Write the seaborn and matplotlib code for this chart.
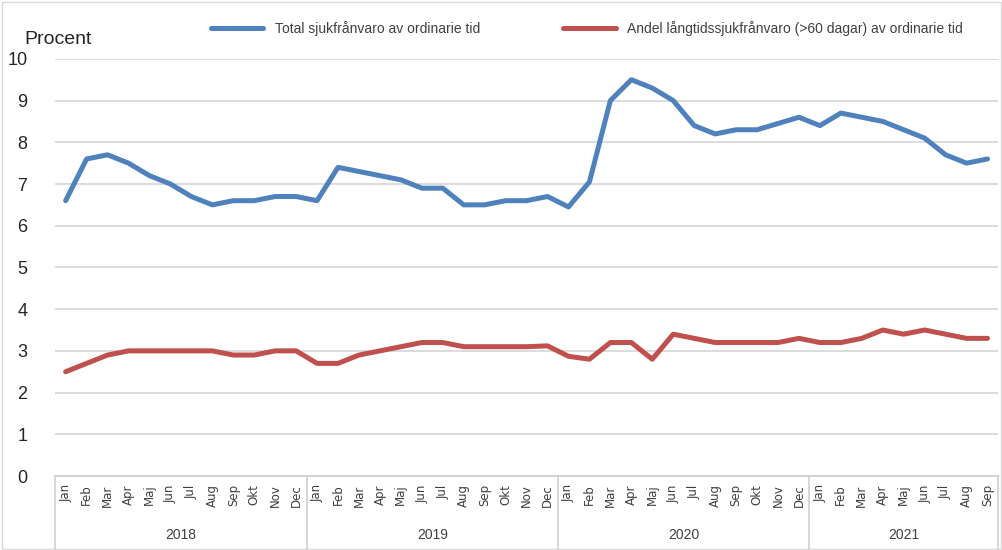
import numpy as np
import pandas as pd
import seaborn as sns
import matplotlib.pyplot as plt
import matplotlib.transforms as mtransforms
from matplotlib.lines import Line2D

#* data
manader = ["Jan", "Feb", "Mar", "Apr", "Maj", "Jun", "Jul", "Aug", "Sep", "Okt", "Nov", "Dec"]
ar = ["2018", "2019", "2020", "2021"]
antal_manader = [12, 12, 12, 9]

total = [6.6, 7.6, 7.7, 7.5, 7.2, 7.0, 6.7, 6.5, 6.6, 6.6, 6.7, 6.7,
         6.6, 7.4, 7.3, 7.2, 7.1, 6.9, 6.9, 6.5, 6.5, 6.6, 6.6, 6.7,
         6.45, 7.05, 9.0, 9.5, 9.3, 9.0, 8.4, 8.2, 8.3, 8.3, 8.45, 8.6,
         8.4, 8.7, 8.6, 8.5, 8.3, 8.1, 7.7, 7.5, 7.6]
langtid = [2.5, 2.7, 2.9, 3.0, 3.0, 3.0, 3.0, 3.0, 2.9, 2.9, 3.0, 3.0,
           2.7, 2.7, 2.9, 3.0, 3.1, 3.2, 3.2, 3.1, 3.1, 3.1, 3.1, 3.12,
           2.87, 2.8, 3.2, 3.2, 2.8, 3.4, 3.3, 3.2, 3.2, 3.2, 3.2, 3.3,
           3.2, 3.2, 3.3, 3.5, 3.4, 3.5, 3.4, 3.3, 3.3]

serie_total = "Total sjukfrånvaro av ordinarie tid"
serie_lang = "Andel långtidssjukfrånvaro (>60 dagar) av ordinarie tid"

month_labels = []
for n in antal_manader:
    month_labels += manader[:n]
x = np.arange(len(month_labels))

df = pd.concat([
    pd.DataFrame({"x": x, "Procent": total, "serie": serie_total}),
    pd.DataFrame({"x": x, "Procent": langtid, "serie": serie_lang}),
])

sns.set_style("white")
plt.rcParams["font.family"] = ["Liberation Sans Narrow", "Liberation Sans", "DejaVu Sans"]

fig = plt.figure(figsize=(10.03, 5.5), dpi=100)
ax = fig.add_axes([0.055, 0.1345, 0.94, 0.7585])

farger = {serie_total: "#4F81BD", serie_lang: "#C0504D"}
sns.lineplot(data=df, x="x", y="Procent", hue="serie", palette=farger,
             linewidth=3.6, ax=ax, legend=False)

ax.set_xlim(-0.5, len(x) - 0.5)
ax.set_ylim(0, 10)
ax.set_yticks(range(0, 11))
ax.set_yticklabels([str(v) for v in range(0, 11)], fontsize=13, color="#262626")
ax.tick_params(axis="y", length=0, pad=20)
ax.grid(axis="y", color="#D9D9D9", linewidth=1.3)
ax.set_axisbelow(True)
for s in ["top", "right", "left"]:
    ax.spines[s].set_visible(False)
ax.spines["bottom"].set_color("#D0D0D0")
ax.spines["bottom"].set_linewidth(1.3)
ax.set_xlabel("")
ax.set_ylabel("")

# manader
ax.set_xticks(x)
ax.set_xticklabels(month_labels, rotation=90, fontsize=8.5, color="#404040",
                   family=["DejaVu Sans"], va="top")
ax.tick_params(axis="x", length=0, pad=6)

# ar + separatorer
trans = mtransforms.blended_transform_factory(ax.transData, ax.transAxes)
start = 0
for namn, n in zip(ar, antal_manader):
    ax.plot([start - 0.5, start - 0.5], [0, -0.2], transform=trans, color="#D0D0D0",
            linewidth=1.2, clip_on=False)
    ax.text(start + (n - 1) / 2, -0.142, namn, transform=trans, ha="center", va="center",
            fontsize=10, color="#404040")
    start += n
ax.plot([start - 0.5, start - 0.5], [0, -0.2], transform=trans, color="#D0D0D0",
        linewidth=1.2, clip_on=False)

fig.text(0.024, 0.928, "Procent", fontsize=14, color="#262626", va="center")

handles = [Line2D([], [], color=farger[serie_total], linewidth=3.6),
           Line2D([], [], color=farger[serie_lang], linewidth=3.6)]
fig.legend(handles, [serie_total, serie_lang], loc="center", bbox_to_anchor=(0.585, 0.949),
           ncol=2, frameon=False, fontsize=10, handlelength=3.8, columnspacing=6,
           labelcolor="#404040")

# ram runt diagrammet
fig.patches.append(plt.Rectangle((0.002, 0.002), 0.996, 0.994, transform=fig.transFigure,
                                 fill=False, edgecolor="#D9D9D9", linewidth=1))

plt.savefig("out.png", dpi=100)
